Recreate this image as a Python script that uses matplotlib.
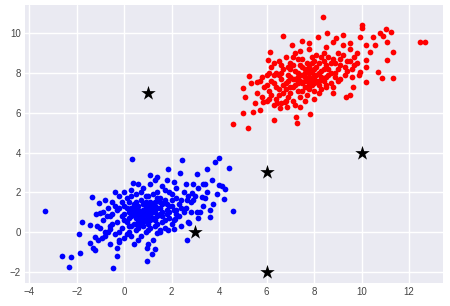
import numpy as np
import matplotlib
matplotlib.use("Agg")
import matplotlib.pyplot as plt

plt.style.use("seaborn-v0_8")
plt.rcParams['font.family'] = ['Liberation Sans', 'DejaVu Sans']

# blue cluster, edges and dense core
blue_pts = [
    (-3.35, 1.07), (-2.61, -1.22), (-2.25, -1.27), (-2.33, -1.75), (-1.86, -1.07),
    (-1.9, -0.1), (-1.77, 0.48), (-1.36, 1.78), (-1.43, 0.37), (-1.43, -0.57),
    (-1.32, -0.82), (-1.22, -0.9), (-1.22, -0.23), (-1.15, 0.28), (-1.08, 1.48),
    (-1.0, 0.95), (-0.94, -0.3), (-0.8, 0.0), (-0.73, 0.8), (-0.59, 0.13),
    (-0.48, -1.8), (-0.38, 2.0), (-0.31, -1.2), (-0.24, -0.4), (0.31, 3.65),
    (0.38, 2.48), (0.95, -1.45), (0.95, -0.82), (1.16, -1.1), (1.3, -0.87),
    (1.09, 2.87), (1.37, 2.79), (1.86, 3.17), (2.42, 3.62), (2.36, 2.95),
    (3.06, 2.92), (3.5, 3.19), (3.4, 2.4), (3.82, 3.5), (3.99, 3.71),
    (4.42, 3.24), (4.0, 2.37), (4.25, 2.15), (4.22, 1.66), (4.6, 1.04),
    (3.76, 1.41), (3.62, 0.75), (3.27, 1.78), (3.06, 1.02), (2.64, -0.42),
    (2.71, 0.45), (2.08, 0.15), (1.86, 0.1), (2.14, 0.65), (1.37, -0.05),
    (1.51, 0.12), (2.64, 1.61), (2.85, 1.95),
    (-0.9, 0.6), (-0.7, 1.2), (-0.6, 0.3), (-0.5, 0.9), (-0.5, 1.5), (-0.4, -0.1),
    (-0.3, 0.5), (-0.3, 1.1), (-0.2, 1.8), (-0.2, -0.5), (-0.1, 0.2), (-0.1, 0.8),
    (0.0, 1.3), (0.0, -0.3), (0.1, 0.5), (0.1, 1.7), (0.2, 0.0), (0.2, 1.0),
    (0.3, 2.1), (0.3, 0.3), (0.4, 1.4), (0.4, -0.6), (0.5, 0.7), (0.5, 1.9),
    (0.6, 0.2), (0.6, 1.1), (0.7, 1.6), (0.7, -0.2), (0.8, 0.5), (0.8, 2.2),
    (0.9, 0.9), (0.9, 1.3), (1.0, 0.1), (1.0, 1.8), (1.1, 0.6), (1.1, 2.4),
    (1.2, 1.1), (1.2, -0.4), (1.3, 1.5), (1.3, 0.3), (1.4, 2.0), (1.4, 0.8),
    (1.5, 1.2), (1.6, 2.3), (1.6, 0.5), (1.7, 1.6), (1.8, 0.9), (1.8, 2.6),
    (1.9, 1.3), (2.0, 1.9), (2.0, 0.4), (2.1, 1.1), (2.2, 2.2), (2.3, 0.8),
    (2.4, 1.6), (2.5, 2.0), (2.6, 1.2), (2.7, 0.5), (2.8, 1.5), (3.0, 1.8),
    (3.1, 2.2), (3.3, 1.3), (3.5, 2.0), (3.7, 2.6), (4.1, 2.3),
    (-1.0, 0.2), (-0.8, -0.2), (-0.6, 0.8), (-0.4, 1.3), (-0.2, 0.0), (0.0, 0.6),
    (0.0, 2.0), (0.2, 1.5), (0.2, 0.7), (0.3, -0.2), (0.4, 0.9), (0.4, 0.4),
    (0.5, 1.2), (0.6, -0.4), (0.6, 0.6), (0.7, 1.0), (0.7, 2.0), (0.8, 0.3),
    (0.8, 1.4), (0.9, 0.0), (0.9, 1.8), (1.0, 0.8), (1.0, 1.1), (1.1, 1.5),
    (1.1, 0.2), (1.2, 0.7), (1.2, 1.9), (1.3, 1.0), (1.3, 2.6), (1.4, 0.4),
    (1.5, 1.7), (1.5, 0.0), (1.6, 1.0), (1.7, 2.1), (1.7, 0.6), (1.8, 1.4),
    (1.9, 0.7), (2.0, 1.6), (2.1, 2.5), (2.2, 0.9), (2.3, 1.4), (2.4, 0.3),
    (2.5, 1.0), (2.6, 2.4), (2.8, 1.0), (2.9, 1.6), (3.2, 1.0), (3.4, 1.7),
    (3.6, 1.1), (3.9, 1.9),
    (-1.2, 0.9), (-1.1, -0.4), (-0.9, 1.0), (-0.7, 0.0), (-0.5, 0.4), (-0.3, -0.8),
    (-0.1, 1.5), (0.1, -0.1), (0.1, 1.2), (0.3, 0.8), (0.3, 1.8), (0.5, 0.1),
    (0.5, 1.5), (0.6, 2.4), (0.7, 0.4), (0.8, 1.1), (0.9, 0.6), (1.0, 1.4),
    (1.0, -0.6), (1.1, 0.9), (1.2, 1.3), (1.3, 0.6), (1.4, 1.7), (1.5, 0.9),
    (1.6, 1.4), (1.7, 0.2), (1.9, 1.0), (1.9, 2.0), (2.1, 0.6), (2.2, 1.7),
    (2.4, 1.2), (2.7, 1.8), (2.9, 2.4), (3.1, 0.7), (3.3, 2.4),
    (-0.8, 1.6), (-0.6, -0.6), (-0.2, 1.2), (0.0, 0.9), (0.2, 0.3), (0.4, 1.0),
    (0.6, 0.9), (0.8, 0.8), (1.0, 0.4), (1.2, 1.0), (1.4, 1.2), (1.6, 0.8),
    (1.8, 1.1), (2.0, 1.3), (2.2, 1.1), (1.1, 1.2), (0.9, 1.5), (0.7, 0.7),
    (0.5, 0.4), (0.3, 1.2), (1.5, 1.5), (1.3, 1.3), (0.6, 1.3), (1.0, 1.0),
]

# red cluster
red_pts = [
    (4.6, 5.44), (5.23, 5.22), (5.02, 5.97), (4.99, 7.23), (5.08, 6.81),
    (5.27, 7.85), (5.33, 7.48), (5.58, 7.57), (5.5, 6.47), (5.44, 6.06),
    (5.72, 6.14), (5.86, 6.56), (6.04, 8.66), (6.14, 9.08), (6.31, 5.64),
    (6.7, 9.87), (7.05, 9.41), (7.23, 5.81), (7.26, 5.5), (7.51, 9.63),
    (7.79, 9.53), (8.38, 10.84), (7.82, 5.94), (8.17, 9.8), (8.55, 10.0),
    (8.8, 9.58), (8.94, 9.75), (9.22, 9.92), (9.53, 9.53), (10.0, 10.42),
    (10.0, 10.25), (9.93, 9.83), (10.2, 9.41), (10.48, 9.83), (10.76, 10.0),
    (11.01, 10.2), (11.25, 10.08), (10.9, 9.87), (11.05, 9.58), (10.55, 9.41),
    (11.32, 9.08), (10.34, 9.08), (11.05, 8.66), (10.2, 8.66), (10.2, 8.32),
    (10.7, 8.07), (10.84, 7.73), (11.32, 7.77), (10.2, 7.57), (12.48, 9.58),
    (12.68, 9.58), (9.5, 6.9), (9.36, 6.81), (8.8, 6.98), (8.52, 7.32),
    (8.0, 6.68), (6.77, 6.56), (6.42, 6.47), (6.56, 6.22), (6.84, 6.3),
    (7.4, 6.3), (9.64, 7.32), (9.93, 8.07),
    (5.6, 7.0), (5.7, 7.6), (5.8, 6.8), (5.9, 7.3), (6.0, 6.6), (6.0, 7.9),
    (6.1, 7.1), (6.2, 8.3), (6.2, 6.9), (6.3, 7.5), (6.4, 6.7), (6.4, 8.0),
    (6.5, 7.2), (6.5, 8.6), (6.6, 7.7), (6.6, 6.5), (6.7, 8.2), (6.7, 7.0),
    (6.8, 7.5), (6.8, 8.8), (6.9, 6.8), (6.9, 7.9), (7.0, 7.3), (7.0, 8.5),
    (7.1, 6.6), (7.1, 7.7), (7.2, 8.1), (7.2, 9.0), (7.3, 7.1), (7.3, 7.5),
    (7.4, 8.4), (7.4, 6.8), (7.5, 7.9), (7.5, 8.7), (7.6, 7.3), (7.6, 8.2),
    (7.7, 7.7), (7.7, 6.9), (7.8, 8.0), (7.8, 9.2), (7.9, 7.4), (7.9, 8.5),
    (8.0, 7.9), (8.0, 7.1), (8.1, 8.3), (8.1, 8.9), (8.2, 7.6), (8.3, 8.1),
    (8.3, 7.2), (8.4, 8.6), (8.5, 7.8), (8.5, 9.3), (8.6, 8.2), (8.7, 7.5),
    (8.8, 8.7), (8.9, 8.0), (9.0, 9.0), (9.0, 7.6), (9.1, 8.4), (9.2, 8.9),
    (9.3, 7.9), (9.4, 8.6), (9.5, 9.2), (9.6, 8.2), (9.7, 8.8), (9.8, 8.5),
    (9.9, 7.9),
    (6.0, 7.4), (6.1, 8.0), (6.3, 6.4), (6.3, 8.5), (6.5, 6.9), (6.6, 8.0),
    (6.7, 7.4), (6.8, 6.6), (6.9, 8.3), (7.0, 7.0), (7.0, 7.8), (7.1, 8.8),
    (7.2, 7.4), (7.2, 6.4), (7.3, 8.0), (7.4, 7.6), (7.4, 9.1), (7.5, 7.1),
    (7.5, 8.3), (7.6, 7.8), (7.6, 6.6), (7.7, 8.5), (7.8, 7.5), (7.8, 7.2),
    (7.9, 8.1), (8.0, 8.6), (8.0, 7.5), (8.1, 7.9), (8.2, 8.5), (8.2, 7.0),
    (8.3, 7.8), (8.4, 8.2), (8.4, 9.0), (8.5, 7.4), (8.6, 8.8), (8.7, 8.0),
    (8.8, 7.3), (8.9, 8.5), (9.0, 8.2), (9.1, 7.7), (9.2, 9.4), (9.4, 8.1),
    (9.6, 7.8), (9.8, 9.0),
    (5.8, 7.8), (6.2, 7.6), (6.4, 7.3), (6.6, 8.4), (6.8, 7.2), (7.0, 8.2),
    (7.1, 7.3), (7.3, 7.8), (7.3, 8.7), (7.5, 7.5), (7.6, 8.0), (7.7, 7.3),
    (7.8, 7.8), (7.9, 8.8), (8.0, 8.2), (8.1, 7.6), (8.2, 8.0), (8.3, 8.8),
    (8.4, 7.6), (8.6, 7.9), (8.7, 8.5), (8.9, 7.8), (9.1, 8.7), (9.3, 8.3),
    (9.5, 8.6), (9.7, 8.4), (7.4, 7.9), (7.6, 7.6), (7.8, 8.3), (8.0, 7.8),
    (7.2, 7.7), (7.9, 7.7), (7.7, 8.1), (8.2, 7.4), (6.9, 7.6), (7.1, 8.4),
    (8.5, 8.4), (6.5, 7.9), (6.1, 6.7), (6.3, 7.9),
]

# star markers
star_x = [1, 3, 6, 6, 10]
star_y = [7, 0, 3, -2, 4]

blue = np.array(blue_pts)
red = np.array(red_pts)

fig = plt.figure(figsize=(4.5, 3.06), dpi=100)
ax = fig.add_axes([0.056, 0.075, 0.928, 0.909])
ax.scatter(blue[:, 0], blue[:, 1], c="blue", s=17, linewidths=0)
ax.scatter(red[:, 0], red[:, 1], c="red", s=17, linewidths=0)
ax.scatter(star_x, star_y, c="black", marker="*", s=120, linewidths=0)

ax.set_xlim(-4.17, 13.42)
ax.set_ylim(-2.57, 11.43)
ax.set_xticks(range(-4, 13, 2))
ax.set_yticks(range(-2, 11, 2))
ax.tick_params(labelsize=7, colors="#444444", pad=3)

fig.savefig("out.png", dpi=100)
